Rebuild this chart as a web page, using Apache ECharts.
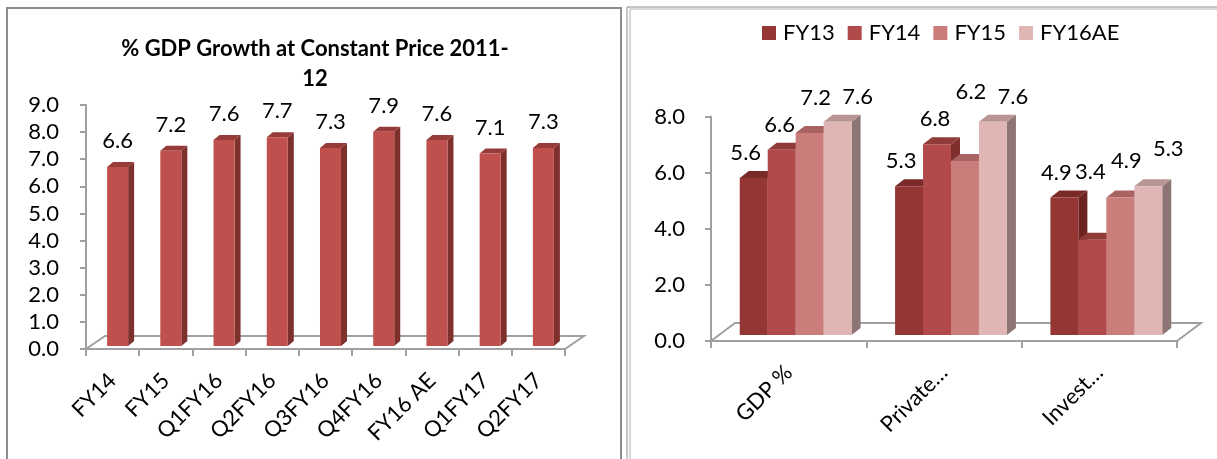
<!DOCTYPE html>
<html>
<head>
<meta charset="utf-8">
<script src="https://cdn.jsdelivr.net/npm/echarts@6/dist/echarts.min.js"></script>
<style>
html,body{margin:0;padding:0;background:#fff;}
#c{width:1217px;height:459px;}
</style>
</head>
<body>
<div id="c"></div>
<script>
// ---- data ----
const leftCategories = ['FY14', 'FY15', 'Q1FY16', 'Q2FY16', 'Q3FY16', 'Q4FY16', 'FY16 AE', 'Q1FY17', 'Q2FY17'];
const leftValues = [6.6, 7.2, 7.6, 7.7, 7.3, 7.9, 7.6, 7.1, 7.3];
const leftTitle = '% GDP Growth at Constant Price 2011-\n12';

const rightCategories = ['GDP %', 'Private…', 'Invest…'];
const rightSeriesNames = ['FY13', 'FY14', 'FY15', 'FY16AE'];
const fy13 = [5.6, 5.3, 4.9];
const fy14 = [6.6, 6.8, 3.4];
const fy15 = [7.2, 6.2, 4.9];
const fy16ae = [7.6, 7.6, 5.3];
const rightValues = [fy13, fy14, fy15, fy16ae];

// ---- styles ----
const FONT = 'Lato, "Open Sans", sans-serif';
const AXIS_GRAY = '#A0A0A0';
const leftColors = {front: '#C0504D', side: '#7E302D', top: '#963B38'};
const rightColors = [
  {front: '#943634', side: '#6B2422', top: '#7A2B29'},
  {front: '#B2494A', side: '#7F302E', top: '#8F3B38'},
  {front: '#CB7D7B', side: '#9A5B5A', top: '#A86362'},
  {front: '#E0B6B5', side: '#8D7575', top: '#B89594'}
];
// label tweak (extra lift in px) for right chart, key "series-category"
const rightLabelLift = {'2-0': 10, '1-2': 43, '2-1': 44, '2-2': 12, '3-2': 12};
const rightLabelDx = [-8, -2, 6, 20];

function bar3d(o) {
  return function (params, api) {
    const cat = api.value(0), v = api.value(1);
    const base = api.coord([cat, 0]);
    const top = api.coord([cat, v]);
    const band = api.size([1, 0])[0];
    const w = band * o.wFrac;
    const x0 = base[0] - o.groupN * w / 2 + o.idx * w + o.ox;
    const yb = base[1] + o.oy, yt = top[1] + o.oy;
    const dx = o.dx, dy = o.dy;
    const c = o.colors;
    const lift = o.lift(o.idx, cat);
    return {
      type: 'group',
      children: [
        {type: 'polygon', shape: {points: [[x0 + w, yt], [x0 + w + dx, yt + dy], [x0 + w + dx, yb + dy], [x0 + w, yb]]}, style: {fill: c.side}},
        {type: 'polygon', shape: {points: [[x0, yt], [x0 + dx, yt + dy], [x0 + w + dx, yt + dy], [x0 + w, yt]]}, style: {fill: c.top}},
        {type: 'rect', shape: {x: x0, y: yt, width: w, height: yb - yt}, style: {fill: c.front}},
        {type: 'text', z2: 100, style: {
          x: x0 + w / 2 + o.labelDx, y: yt - lift,
          text: v.toFixed(1), font: '22px ' + FONT, fill: '#000',
          textAlign: 'center', textVerticalAlign: 'middle'}}
      ]
    };
  };
}

function floor(dx, dy) {
  return function (params, api) {
    const cs = params.coordSys;
    const x = cs.x, y = cs.y + cs.height, w = cs.width;
    const st = {stroke: AXIS_GRAY, lineWidth: 2};
    return {
      type: 'group',
      children: [
        {type: 'polyline', shape: {points: [[x, y], [x + dx, y + dy], [x + w + dx, y + dy], [x + w, y]]}, style: Object.assign({fill: null}, st)}
      ]
    };
  };
}

const axisLabelStyle = {fontFamily: FONT, fontSize: 22, color: '#000'};

const series = [];
series.push({type: 'custom', xAxisIndex: 0, yAxisIndex: 0, clip: false, z: 1, silent: true,
  renderItem: floor(19, -13), data: [[0, 0]]});
series.push({type: 'custom', name: 'GDP', xAxisIndex: 0, yAxisIndex: 0, clip: false, z: 2,
  encode: {x: 0, y: 1},
  renderItem: bar3d({wFrac: 0.395, groupN: 1, idx: 0, ox: 5, oy: -3, dx: 6, dy: -5, colors: leftColors, labelDx: 0, lift: () => 26}),
  data: leftValues.map((v, i) => [i, v])});
series.push({type: 'custom', xAxisIndex: 1, yAxisIndex: 1, clip: false, z: 1, silent: true,
  renderItem: floor(24, -18), data: [[0, 0]]});
rightSeriesNames.forEach((name, s) => {
  series.push({type: 'custom', name: name, xAxisIndex: 1, yAxisIndex: 1, clip: false, z: 2,
    itemStyle: {color: rightColors[s].front},
    encode: {x: 0, y: 1},
    renderItem: bar3d({wFrac: 0.18, groupN: 4, idx: s, ox: 7, oy: -6, dx: 9, dy: -7, colors: rightColors[s],
      labelDx: rightLabelDx[s], lift: (i, c) => 25 + (rightLabelLift[i + '-' + c] || 0)}),
    data: rightValues[s].map((v, i) => [i, v])});
});

const chart = echarts.init(document.getElementById('c'));
chart.setOption({
  animation: false,
  backgroundColor: '#fff',
  graphic: [
    {type: 'rect', shape: {x: 7, y: 8, width: 614, height: 470}, style: {fill: null, stroke: '#8C8C8C', lineWidth: 2}},
    {type: 'rect', shape: {x: 627, y: 7, width: 620, height: 470}, style: {fill: null, stroke: '#8C8C8C', lineWidth: 1}},
    {type: 'rect', shape: {x: 630, y: 9, width: 620, height: 470}, style: {fill: null, stroke: '#B0B0B0', lineWidth: 1}},
    {type: 'text', style: {x: 315, y: 64, text: leftTitle, font: 'bold 22px ' + FONT, fill: '#000',
      textAlign: 'center', textVerticalAlign: 'middle', lineHeight: 30}}
  ],
  legend: {
    data: rightSeriesNames, left: 757, top: 17, icon: 'rect', itemWidth: 14, itemHeight: 14, itemGap: 13,
    textStyle: {fontFamily: FONT, fontSize: 22, color: '#000', padding: [0, 0, 0, 2]}
  },
  grid: [
    {left: 86, top: 105, width: 479, height: 244, containLabel: false},
    {left: 711, top: 116.6, width: 466, height: 224.4, containLabel: false}
  ],
  xAxis: [
    {type: 'category', gridIndex: 0, data: leftCategories,
      axisLine: {lineStyle: {color: AXIS_GRAY, width: 2}},
      axisTick: {show: true, length: 7, lineStyle: {color: AXIS_GRAY, width: 2}},
      axisLabel: Object.assign({rotate: 45, margin: 28, interval: 0}, axisLabelStyle)},
    {type: 'category', gridIndex: 1, data: rightCategories,
      axisLine: {lineStyle: {color: AXIS_GRAY, width: 2}},
      axisTick: {show: true, length: 7, lineStyle: {color: AXIS_GRAY, width: 2}},
      axisLabel: Object.assign({rotate: 45, margin: 28, interval: 0}, axisLabelStyle)}
  ],
  yAxis: [
    {type: 'value', gridIndex: 0, min: 0, max: 9, interval: 1,
      axisLine: {show: true, lineStyle: {color: AXIS_GRAY, width: 2}},
      axisTick: {show: true, length: 6, lineStyle: {color: AXIS_GRAY, width: 2}},
      splitLine: {show: false},
      axisLabel: Object.assign({margin: 27, formatter: v => v.toFixed(1)}, axisLabelStyle)},
    {type: 'value', gridIndex: 1, min: 0, max: 8, interval: 2,
      axisLine: {show: true, lineStyle: {color: AXIS_GRAY, width: 2}},
      axisTick: {show: true, length: 6, lineStyle: {color: AXIS_GRAY, width: 2}},
      splitLine: {show: false},
      axisLabel: Object.assign({margin: 26, formatter: v => v.toFixed(1)}, axisLabelStyle)}
  ],
  series: series
});
</script>
</body>
</html>
